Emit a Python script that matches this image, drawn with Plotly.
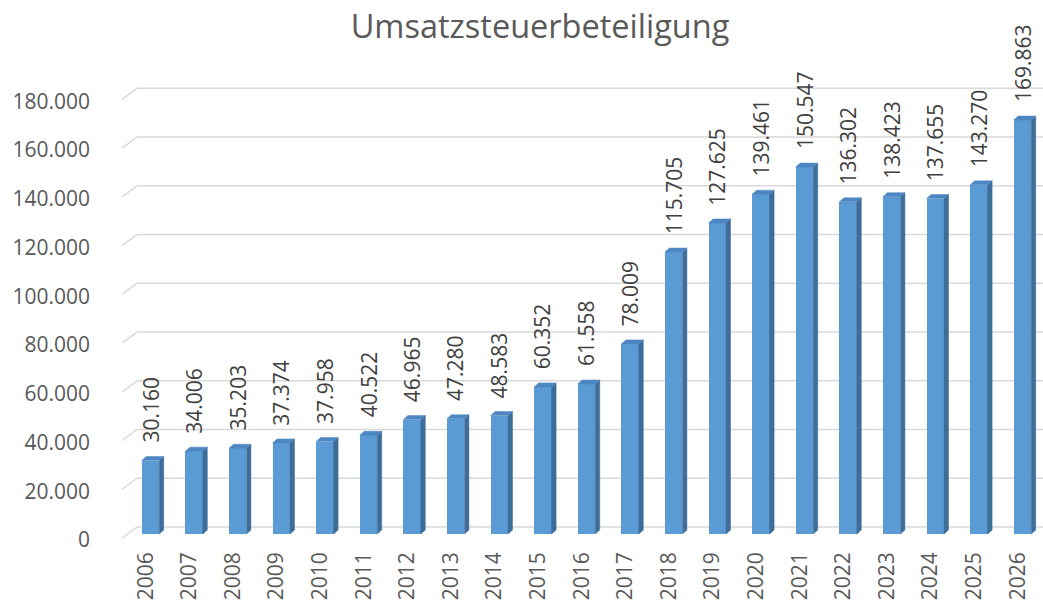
import plotly.graph_objects as go

# ---- data ----
years = ["2006", "2007", "2008", "2009", "2010", "2011", "2012", "2013", "2014", "2015",
         "2016", "2017", "2018", "2019", "2020", "2021", "2022", "2023", "2024", "2025", "2026"]
values = [30160, 34006, 35203, 37374, 37958, 40522, 46965, 47280, 48583, 60352,
          61558, 78009, 115705, 127625, 139461, 150547, 136302, 138423, 137655, 143270, 169863]
value_labels = ["30.160", "34.006", "35.203", "37.374", "37.958", "40.522", "46.965", "47.280",
                "48.583", "60.352", "61.558", "78.009", "115.705", "127.625", "139.461",
                "150.547", "136.302", "138.423", "137.655", "143.270", "169.863"]
grid_values = [0, 20000, 40000, 60000, 80000, 100000, 120000, 140000, 160000, 180000]
grid_labels = ["0", "20.000", "40.000", "60.000", "80.000", "100.000", "120.000",
               "140.000", "160.000", "180.000"]
title_text = "Umsatzsteuerbeteiligung"

# ---- layout geometry (pixels) ----
W, H = 1043, 602
ML, MR, MT, MB = 115, 0, 60, 57
plot_w = W - ML - MR
plot_h = H - MT - MB
step_px = 43.6          # px per category
first_px = 150.5        # px of first bar centre
k = 0.002437            # px per value unit
zero_px = 534           # px of value 0 (bar bottom)

x_lo = (ML - first_px) / step_px
x_hi = (W - MR - first_px) / step_px
y_lo = -(MT + plot_h - zero_px) / k
y_hi = (zero_px - MT) / k

idx = list(range(len(years)))
bar_w = 0.40
half = bar_w / 2
dx = 4.5 / step_px       # depth offset in x units
dy = 4.0 / k             # depth offset in y units

front_col = "#5B9BD5"
side_col = "#3E6D9A"
top_col = "#4C87C3"

fig = go.Figure()

# front faces
fig.add_trace(go.Bar(x=idx, y=values, width=bar_w, marker=dict(color=front_col, line=dict(width=0)),
                     hoverinfo="skip", showlegend=False))

# side and top faces
for i, v in zip(idx, values):
    fig.add_trace(go.Scatter(
        x=[i + half, i + half + dx, i + half + dx, i + half, i + half],
        y=[0, dy, v + dy, v, 0],
        fill="toself", fillcolor=side_col, mode="lines",
        line=dict(color=side_col, width=0.5), hoverinfo="skip", showlegend=False))
    fig.add_trace(go.Scatter(
        x=[i - half, i - half + dx, i + half + dx, i + half, i - half],
        y=[v, v + dy, v + dy, v, v],
        fill="toself", fillcolor=top_col, mode="lines",
        line=dict(color=top_col, width=0.5), hoverinfo="skip", showlegend=False))

# back-wall gridlines with floor stub
gx_front = (122 - first_px) / step_px
gx_back = (137 - first_px) / step_px
front_off = -4.0 / k
back_off = 7.0 / k
shapes = []
for g in grid_values:
    shapes.append(dict(type="line", xref="x", yref="y", layer="below",
                       x0=gx_front, y0=g + front_off, x1=gx_back, y1=g + back_off,
                       line=dict(color="#D9D9D9", width=1.5)))
    shapes.append(dict(type="line", xref="x", yref="y", layer="below",
                       x0=gx_back, y0=g + back_off, x1=x_hi, y1=g + back_off,
                       line=dict(color="#D9D9D9", width=1.5)))

# data labels
annotations = []
label_gap = 15.5 / k
for i, v, t in zip(idx, values, value_labels):
    annotations.append(dict(x=i, y=v + label_gap, xref="x", yref="y", text=t,
                            textangle=-90, showarrow=False, xanchor="center", yanchor="bottom",
                            font=dict(family="Open Sans", size=21, color="#404040")))

label_shift = 6.0 / k
fig.update_layout(
    width=W, height=H, autosize=False,
    margin=dict(l=ML, r=MR, t=MT, b=MB),
    paper_bgcolor="white", plot_bgcolor="white",
    title=dict(text=title_text, x=540 / W, xref="container", xanchor="center",
               y=1 - 27 / H, yref="container", yanchor="middle",
               font=dict(family="Open Sans", size=32.5, color="#595959")),
    shapes=shapes, annotations=annotations, bargap=0,
    xaxis=dict(range=[x_lo, x_hi], tickvals=[i - 0.11 for i in idx], ticktext=years,
               tickangle=-90, showgrid=False, zeroline=False, showline=False, ticks="",
               ticklabelstandoff=2,
               tickfont=dict(family="Open Sans", size=21, color="#595959"), fixedrange=True),
    yaxis=dict(range=[y_lo, y_hi], tickvals=[g - label_shift for g in grid_values],
               ticktext=grid_labels, showgrid=False, zeroline=False, showline=False, ticks="",
               ticklabelstandoff=24,
               tickfont=dict(family="Open Sans", size=21, color="#595959"), fixedrange=True),
)

fig.write_html("out.html", config={"displayModeBar": False},
               post_script="document.body.style.margin='0';document.body.style.overflow='hidden';"
                           "document.documentElement.style.overflow='hidden';")
